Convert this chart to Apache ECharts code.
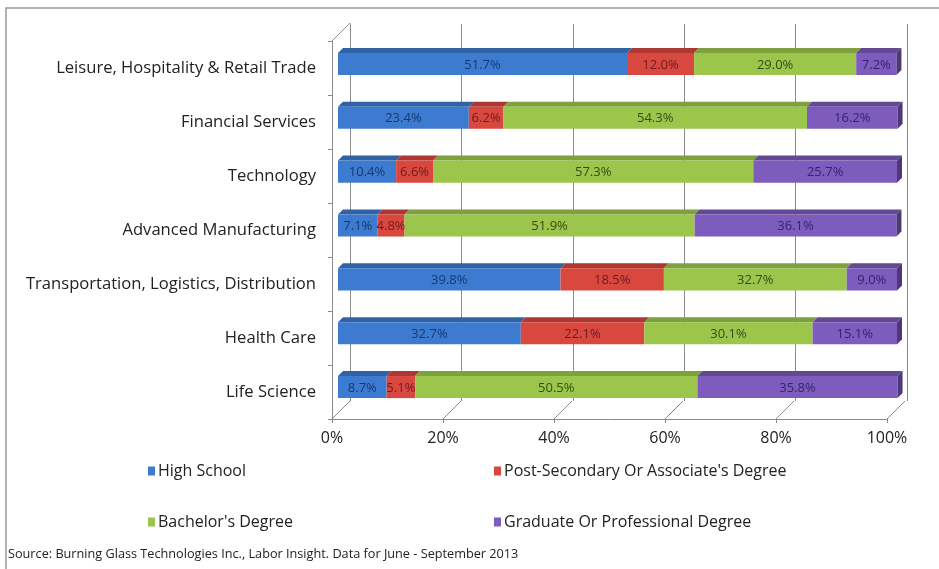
<!DOCTYPE html>
<html>
<head>
<meta charset="utf-8">
<script src="https://cdn.jsdelivr.net/npm/echarts@6/dist/echarts.min.js"></script>
<style>
html,body{margin:0;padding:0;background:#fff;}
#chart{width:939px;height:569px;}
</style>
</head>
<body>
<div id="chart"></div>
<script>
// ---- data ----
var categories = [
  'Leisure, Hospitality & Retail Trade',
  'Financial Services',
  'Technology',
  'Advanced Manufacturing',
  'Transportation, Logistics, Distribution',
  'Health Care',
  'Life Science'
];
var seriesNames = ['High School', "Post-Secondary Or Associate's Degree", "Bachelor's Degree", 'Graduate Or Professional Degree'];
var highSchool   = [51.7, 23.4, 10.4, 7.1, 39.8, 32.7, 8.7];
var postSecondary = [12.0, 6.2, 6.6, 4.8, 18.5, 22.1, 5.1];
var bachelors    = [29.0, 54.3, 57.3, 51.9, 32.7, 30.1, 50.5];
var graduate     = [7.2, 16.2, 25.7, 36.1, 9.0, 15.1, 35.8];
var tickValues = [0, 20, 40, 60, 80, 100];
var sourceText = 'Source: Burning Glass Technologies Inc., Labor Insight. Data for June - September 2013';

// ---- styles ----
var colors = ['#3d7bd0', '#d8483f', '#9cc54c', '#7d5cbd'];
var topColors = ['#2f63a6', '#ad3832', '#7ea03d', '#634894'];
var sideColors = ['#25508a', '#8f2c27', '#66832f', '#4e3878'];
var labelColors = ['#17386e', '#6e1a22', '#344d16', '#36236c'];
var FONT = '"Open Sans", Lato, sans-serif';
var DEPTH = 18;
var BAR_D = 5;

var allSeries = [highSchool, postSecondary, bachelors, graduate];

function buildSegments(k) {
  var out = [];
  for (var i = 0; i < categories.length; i++) {
    var start = 0;
    for (var j = 0; j < k; j++) start += allSeries[j][i];
    var end = start + allSeries[k][i];
    out.push([start, end, i, allSeries[k][i]]);
  }
  return out;
}

function barRenderer(k) {
  return function (params, api) {
    var start = api.value(0), end = api.value(1), cat = api.value(2), val = api.value(3);
    var p0 = api.coord([start, cat]);
    var p1 = api.coord([end, cat]);
    var band = api.size([0, 1])[1];
    var h = band * 0.41;
    var x0 = p0[0], x1 = p1[0], yc = p0[1];
    var yt = yc - h / 2, yb = yc + h / 2;
    var children = [];
    children.push({
      type: 'polygon',
      shape: { points: [[x0, yt], [x1, yt], [x1 + BAR_D, yt - BAR_D], [x0 + BAR_D, yt - BAR_D]] },
      style: { fill: topColors[k] }
    });
    children.push({
      type: 'rect',
      shape: { x: x0, y: yt, width: x1 - x0, height: h },
      style: { fill: colors[k] }
    });
    if (k === allSeries.length - 1) {
      children.push({
        type: 'polygon',
        shape: { points: [[x1, yt], [x1 + BAR_D, yt - BAR_D], [x1 + BAR_D, yb - BAR_D], [x1, yb]] },
        style: { fill: sideColors[k] }
      });
    }
    children.push({
      type: 'text',
      style: {
        text: val.toFixed(1) + '%',
        x: (x0 + x1) / 2, y: yc + 1,
        align: 'center', verticalAlign: 'middle',
        fill: labelColors[k], font: '13px ' + FONT
      }
    });
    return { type: 'group', children: children };
  };
}

var series = [];
for (var k = 0; k < allSeries.length; k++) {
  series.push({
    name: seriesNames[k],
    type: 'custom',
    xAxisIndex: 2, yAxisIndex: 2,
    itemStyle: { color: colors[k] },
    renderItem: barRenderer(k),
    encode: { x: [0, 1], y: 2 },
    data: buildSegments(k),
    z: 5
  });
}

// floor diagonals from front ticks to back wall
series.push({
  type: 'custom',
  xAxisIndex: 0, yAxisIndex: 0,
  silent: true,
  renderItem: function (params, api) {
    var v = api.value(0);
    var cs = params.coordSys;
    var x = api.coord([v, 0])[0];
    var yb = cs.y + cs.height;
    var children = [{
      type: 'line',
      shape: { x1: x, y1: yb, x2: x + DEPTH, y2: yb - DEPTH },
      style: { stroke: '#8c8c8c', lineWidth: 1 }
    }];
    if (v === tickValues[0]) {
      children.push({
        type: 'line',
        shape: { x1: x, y1: cs.y, x2: x + DEPTH, y2: cs.y - DEPTH },
        style: { stroke: '#8c8c8c', lineWidth: 1 }
      });
    }
    return { type: 'group', children: children };
  },
  encode: { x: 0 },
  data: tickValues.map(function (v) { return [v]; }),
  z: 1
});

var chart = echarts.init(document.getElementById('chart'), null, { renderer: 'canvas' });
chart.setOption({
  backgroundColor: '#ffffff',
  animation: false,
  title: {
    text: sourceText,
    left: 8, top: 548, padding: 0,
    textStyle: { fontSize: 12.7, fontWeight: 'normal', color: '#222', fontFamily: FONT }
  },
  graphic: [{
    type: 'rect',
    shape: { x: 6, y: 8, width: 1000, height: 700 },
    style: { fill: 'none', stroke: '#9a9a9a', lineWidth: 1.5 },
    silent: true, z: -10
  }],
  legend: [{
    data: [seriesNames[0], seriesNames[2]],
    orient: 'vertical',
    left: 143, top: 458,
    itemGap: 35,
    icon: 'rect', itemWidth: 7, itemHeight: 9,
    textStyle: { fontSize: 16, color: '#222', fontFamily: FONT, padding: [0, 0, 0, -2] }
  }, {
    data: [seriesNames[1], seriesNames[3]],
    orient: 'vertical',
    left: 489, top: 458,
    itemGap: 35,
    icon: 'rect', itemWidth: 7, itemHeight: 9,
    textStyle: { fontSize: 16, color: '#222', fontFamily: FONT, padding: [0, 0, 0, -2] }
  }],
  grid: [
    { left: 332, right: 52, top: 41, bottom: 150 },   // front plane (axes)
    { left: 350, right: 32, top: 24, bottom: 168 },   // back wall
    { left: 338, right: 42, top: 37, bottom: 155 }    // bars (mid depth)
  ],
  xAxis: [{
    gridIndex: 0, type: 'value', min: 0, max: 100, interval: 20,
    axisLine: { show: true, lineStyle: { color: '#8c8c8c' } },
    axisTick: { show: true, length: 4, lineStyle: { color: '#8c8c8c' } },
    axisLabel: { formatter: '{value}%', fontSize: 16, color: '#222', margin: 11, fontFamily: FONT },
    splitLine: { show: false }
  }, {
    gridIndex: 1, type: 'value', min: 0, max: 100, interval: 20,
    axisLine: { show: false }, axisTick: { show: false }, axisLabel: { show: false },
    splitLine: { show: true, lineStyle: { color: '#8c8c8c', width: 1 } }
  }, {
    gridIndex: 2, type: 'value', min: 0, max: 100, interval: 20,
    show: false
  }],
  yAxis: [{
    gridIndex: 0, type: 'category', inverse: true, data: categories,
    axisLine: { show: true, lineStyle: { color: '#8c8c8c' } },
    axisTick: { show: true, length: 4, lineStyle: { color: '#8c8c8c' } },
    axisLabel: { fontSize: 16.6, color: '#222', margin: 16, fontFamily: FONT }
  }, {
    gridIndex: 1, type: 'category', inverse: true, data: categories,
    axisLine: { show: true, lineStyle: { color: '#8c8c8c' } },
    axisTick: { show: false }, axisLabel: { show: false }
  }, {
    gridIndex: 2, type: 'category', inverse: true, data: categories,
    show: false
  }],
  series: series
});
</script>
</body>
</html>
